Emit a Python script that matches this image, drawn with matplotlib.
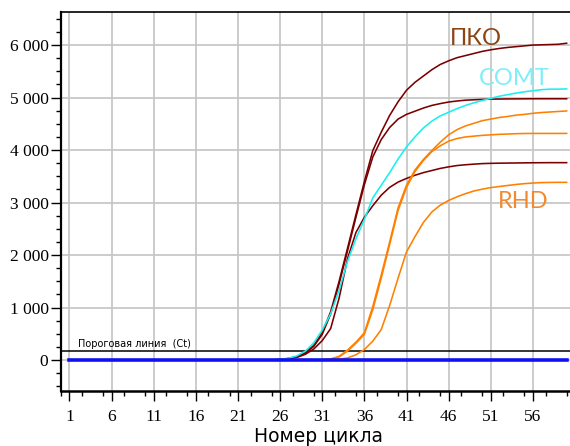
import matplotlib
matplotlib.use("Agg")
import matplotlib.pyplot as plt
from matplotlib.ticker import MultipleLocator, FixedLocator, FuncFormatter

# Amplification curves (fluorescence vs cycle)
cycles_a = list(range(25, 61))
pko_1 = [0, 10, 30, 65, 140, 280, 520, 920, 1500, 2130, 2770, 3400, 3990, 4340, 4660, 4920,
         5140, 5290, 5410, 5530, 5630, 5700, 5760, 5800, 5840, 5880, 5910, 5935, 5955, 5970,
         5985, 6000, 6005, 6010, 6015, 6035]
pko_2 = [0, 10, 28, 60, 130, 260, 490, 880, 1450, 2080, 2720, 3340, 3870, 4200, 4430, 4590,
         4680, 4740, 4800, 4850, 4885, 4915, 4935, 4950, 4958, 4965, 4970, 4972, 4974, 4975,
         4976, 4977, 4977, 4977, 4977, 4977]
pko_3 = [0, 8, 22, 50, 110, 210, 370, 600, 1180, 1930, 2430, 2720, 2940, 3140, 3290, 3390,
         3460, 3520, 3570, 3610, 3650, 3680, 3705, 3720, 3732, 3742, 3747, 3750, 3752, 3754,
         3756, 3758, 3759, 3760, 3760, 3760]
comt = [0, 12, 35, 80, 170, 330, 570, 880, 1330, 1880, 2310, 2680, 3090, 3330, 3570, 3830,
        4060, 4250, 4420, 4550, 4650, 4720, 4790, 4850, 4900, 4945, 4985, 5025, 5055, 5085,
        5110, 5130, 5150, 5160, 5160, 5165]

cycles_b = list(range(30, 61))
rhd_1 = [0, 5, 20, 70, 190, 340, 520, 1020, 1620, 2250, 2900, 3330, 3620, 3820, 3990, 4150,
         4290, 4390, 4460, 4510, 4560, 4590, 4620, 4640, 4665, 4680, 4700, 4715, 4725, 4735,
         4745]
rhd_2 = [0, 5, 15, 60, 170, 320, 490, 960, 1560, 2200, 2850, 3290, 3590, 3800, 3970, 4080,
         4170, 4220, 4250, 4265, 4280, 4290, 4300, 4305, 4312, 4315, 4317, 4317, 4317, 4317,
         4317]
rhd_3 = [0, 0, 5, 15, 40, 100, 200, 360, 580, 1040, 1560, 2060, 2350, 2620, 2820, 2950,
         3040, 3110, 3170, 3220, 3255, 3285, 3305, 3325, 3345, 3360, 3372, 3380, 3383, 3385,
         3385]

threshold = 170
baseline_cycles = [1, 60]
baseline_values = [0, 0]

x_ticks = list(range(1, 57, 5))
y_ticks = list(range(0, 6001, 1000))

fig = plt.figure(figsize=(5.70, 4.46), dpi=100)
ax = fig.add_axes([61 / 570, 1 - 391 / 446, 509 / 570, (391 - 12) / 446])
ax.set_xlim(0, 60.4)
ax.set_ylim(-590, 6630)

ax.set_axisbelow(True)
ax.xaxis.set_major_locator(FixedLocator(x_ticks))
ax.xaxis.set_minor_locator(MultipleLocator(2.5))
ax.yaxis.set_major_locator(FixedLocator(y_ticks))
ax.yaxis.set_minor_locator(MultipleLocator(250))
ax.grid(True, which="major", color="#c4c4c4", linewidth=1.2)

ax.yaxis.set_major_formatter(FuncFormatter(
    lambda v, p: f"{int(v):,}".replace(",", " ")))

ax.spines["right"].set_visible(False)
ax.spines["left"].set_linewidth(1.6)
ax.spines["bottom"].set_linewidth(1.8)
ax.spines["top"].set_linewidth(1.2)

ax.tick_params(axis="both", which="major", direction="out", length=7, width=1.0,
               colors="black", labelsize=12.5)
ax.tick_params(axis="both", which="minor", direction="out", length=3.5, width=1.0)
ax.tick_params(axis="y", which="major", pad=2)
ax.tick_params(axis="x", which="major", pad=6)
for lbl in ax.get_xticklabels() + ax.get_yticklabels():
    lbl.set_family("Liberation Serif")

# Threshold and baseline
ax.axhline(threshold, color="black", linewidth=1.1, zorder=3)
ax.text(2.0, threshold + 45, "Пороговая линия  (Ct)", fontsize=7,
        family="DejaVu Sans", color="black", va="bottom", ha="left")

dark = "#7a0000"
for series in (pko_3, pko_2, pko_1):
    ax.plot(cycles_a, series, color=dark, linewidth=1.15, zorder=4)
ax.plot(cycles_a, comt, color="#19f0f0", linewidth=1.15, zorder=4)
orange = "#ff8000"
for series in (rhd_3, rhd_2, rhd_1):
    ax.plot(cycles_b, series, color=orange, linewidth=1.15, zorder=4)

ax.plot(baseline_cycles, baseline_values, color="#1010f0", linewidth=2.6, zorder=5)

# Series labels
ax.text(46.2, 6000, "ПКО", color="#8b4513", fontsize=17, family="Lato",
        ha="left", va="baseline")
ax.text(49.6, 5238, "COMT", color="#80eef8", fontsize=17, family="Lato",
        ha="left", va="baseline")
ax.text(51.9, 2895, "RHD", color="#f28a2e", fontsize=17, family="Lato",
        ha="left", va="baseline")

fig.text(318 / 570, 1 - 437 / 446, "Номер цикла", fontsize=13.5, family="DejaVu Sans",
         ha="center", va="center")

fig.savefig("out.png", dpi=100)
